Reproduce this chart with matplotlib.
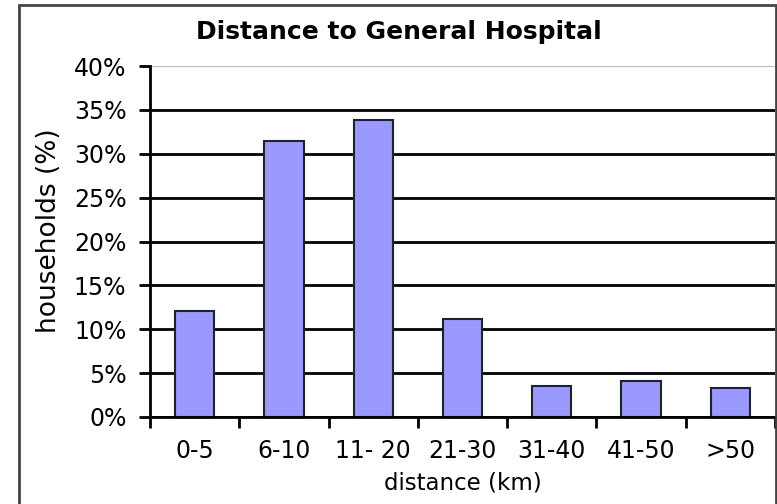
import matplotlib.pyplot as plt
from matplotlib.patches import Rectangle

# data
categories = ["0-5", "6-10", "11- 20", "21-30", "31-40", "41-50", ">50"]
households = [12.1, 31.5, 33.8, 11.2, 3.5, 4.1, 3.3]
yticks = [0, 5, 10, 15, 20, 25, 30, 35, 40]

plt.rcParams['font.family'] = ['DejaVu Sans']

fig = plt.figure(figsize=(7.77, 5.04), dpi=100)
ax = fig.add_axes([150/777, 1-417/504, 625/777, 351/504])

x = list(range(len(categories)))
ax.bar(x, households, width=0.44, color="#9999ff", edgecolor="#222222",
       linewidth=1.5, zorder=3)

ax.set_xlim(-0.5, len(categories)-0.5)
ax.set_ylim(0, 40)
ax.set_yticks(yticks)
ax.set_yticklabels([f"{v}%" for v in yticks], fontsize=17)
ax.set_xticks([i + 0.5 for i in range(-1, len(categories))], minor=False)
ax.set_xticklabels([])
ax.set_xticks(x, minor=True)
ax.set_xticklabels(categories, minor=True, fontsize=17)
ax.tick_params(axis='x', which='minor', length=0, pad=16)
ax.tick_params(axis='x', which='major', length=8, width=2, direction='out')
ax.tick_params(axis='y', length=8, width=2, direction='out', pad=9)

ax.grid(axis='y', color='black', linewidth=2, zorder=0)
ax.get_ygridlines()[-1].set_color('#bbbbbb')
ax.get_ygridlines()[-1].set_linewidth(1.5)

for side in ['top', 'right']:
    ax.spines[side].set_visible(False)
for side in ['left', 'bottom']:
    ax.spines[side].set_linewidth(2)
    ax.spines[side].set_zorder(4)

ax.set_xlabel("distance (km)", fontsize=16.5, labelpad=6)
ax.set_ylabel("households (%)", fontsize=19)
ax.yaxis.set_label_coords(-0.141, 0.53)
fig.text(399/777, 1-32/504, "Distance to General Hospital", fontsize=18,
         fontweight='bold', ha='center', va='center')

# outer chart border
fig.patches.append(Rectangle((19/777, -0.02), 757/777, 1-5/504+0.02,
                             transform=fig.transFigure, fill=False,
                             edgecolor='#444444', linewidth=2))

fig.savefig("out.png", dpi=100)
